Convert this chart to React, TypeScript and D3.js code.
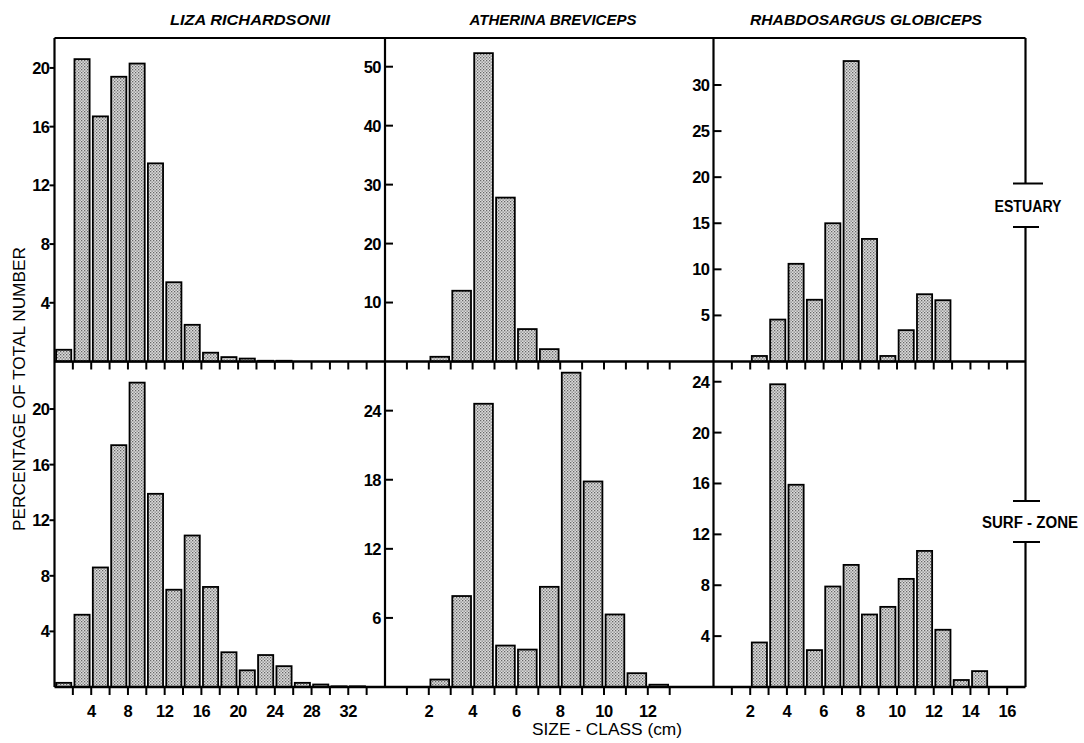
import React from 'react';
import * as d3 from 'd3';

// ---------- DATA ----------
const speciesNames = ['LIZA RICHARDSONII', 'ATHERINA BREVICEPS', 'RHABDOSARGUS GLOBICEPS'];
const habitatNames = ['ESTUARY', 'SURF - ZONE'];

// Liza richardsonii : 2-cm size classes (lower bounds)
const lizaStarts = [0, 2, 4, 6, 8, 10, 12, 14, 16, 18, 20, 22, 24, 26, 28, 30, 32];
const lizaEstuary = [0.8, 20.6, 16.7, 19.4, 20.3, 13.5, 5.4, 2.5, 0.6, 0.3, 0.2, 0.05, 0.05];
const lizaSurf = [0.3, 5.2, 8.6, 17.4, 21.9, 13.9, 7.0, 10.9, 7.2, 2.5, 1.2, 2.3, 1.5, 0.3, 0.18, 0.05, 0.05];

// Atherina breviceps : 1-cm size classes
const atherinaStarts = [2, 3, 4, 5, 6, 7, 8, 9, 10, 11, 12];
const atherinaEstuary = [0.8, 12.0, 52.3, 27.8, 5.5, 2.1];
const atherinaSurf = [0.65, 7.9, 24.6, 3.6, 3.25, 8.7, 27.3, 17.85, 6.3, 1.2, 0.2];

// Rhabdosargus globiceps : 1-cm size classes
const rhabdoStarts = [2, 3, 4, 5, 6, 7, 8, 9, 10, 11, 12, 13, 14];
const rhabdoEstuary = [0.6, 4.55, 10.6, 6.7, 15.0, 32.6, 13.3, 0.6, 3.4, 7.3, 6.65];
const rhabdoSurf = [3.5, 23.8, 15.9, 2.9, 7.9, 9.6, 5.7, 6.3, 8.5, 10.7, 4.5, 0.55, 1.25];

// ticks
const lizaXTicks = [2, 4, 6, 8, 10, 12, 14, 16, 18, 20, 22, 24, 26, 28, 30, 32, 34];
const lizaXLabels = [4, 8, 12, 16, 20, 24, 28, 32];
const atherinaXTicks = [1, 2, 3, 4, 5, 6, 7, 8, 9, 10, 11, 12, 13];
const atherinaXLabels = [2, 4, 6, 8, 10, 12];
const rhabdoXTicks = [1, 2, 3, 4, 5, 6, 7, 8, 9, 10, 11, 12, 13, 14, 15, 16];
const rhabdoXLabels = [2, 4, 6, 8, 10, 12, 14, 16];

const lizaEstuaryYTicks = [4, 8, 12, 16, 20];
const lizaSurfYTicks = [4, 8, 12, 16, 20];
const atherinaEstuaryYTicks = [10, 20, 30, 40, 50];
const atherinaSurfYTicks = [6, 12, 18, 24];
const rhabdoEstuaryYTicks = [5, 10, 15, 20, 25, 30];
const rhabdoSurfYTicks = [4, 8, 12, 16, 20, 24];

const xLabel = 'SIZE - CLASS  (cm)';
const yLabel = 'PERCENTAGE OF TOTAL NUMBER';

// ---------- LAYOUT ----------
const W = 1084;
const H = 743;
const TOP = 38;
const MID = 361.5;
const BOT = 687;
const RIGHT = 1025.5;
const FONT = "'Liberation Sans', Arial, Helvetica, sans-serif";

const columns = [
  { x0: 54.5, x1: 385, xMax: 36, classW: 2, starts: lizaStarts, est: lizaEstuary, surf: lizaSurf,
    xTicks: lizaXTicks, xLabels: lizaXLabels, yMax: [22.04, 23.42], yTicks: [lizaEstuaryYTicks, lizaSurfYTicks], outsideY: true },
  { x0: 385, x1: 713.5, xMax: 15, classW: 1, starts: atherinaStarts, est: atherinaEstuary, surf: atherinaSurf,
    xTicks: atherinaXTicks, xLabels: atherinaXLabels, yMax: [54.87, 28.27], yTicks: [atherinaEstuaryYTicks, atherinaSurfYTicks], outsideY: false },
  { x0: 713.5, x1: RIGHT, xMax: 17, classW: 1, starts: rhabdoStarts, est: rhabdoEstuary, surf: rhabdoSurf,
    xTicks: rhabdoXTicks, xLabels: rhabdoXLabels, yMax: [35.1, 25.59], yTicks: [rhabdoEstuaryYTicks, rhabdoSurfYTicks], outsideY: false },
];
const titleX = [250, 553, 866];
const titleW = [160, 167, 232];
const rows = [
  { top: TOP, base: MID },
  { top: MID, base: BOT },
];

export default function App() {
  return (
    <svg width={W} height={H} viewBox={`0 0 ${W} ${H}`}
      style={{ position: 'absolute', left: 0, top: 0, background: '#fff' }}
      fontFamily={FONT}>
      <defs>
        <pattern id="stip" width="3" height="3" patternUnits="userSpaceOnUse">
          <rect width="3" height="3" fill="#dcdcdc" />
          <rect x="0" y="0" width="1.3" height="1.3" fill="#666" />
          <rect x="1.5" y="1.5" width="1.3" height="1.3" fill="#7c7c7c" />
        </pattern>
      </defs>
      <rect x={0} y={0} width={W} height={H} fill="#fff" />

      {columns.map((c, ci) => {
        const x = d3.scaleLinear().domain([0, c.xMax]).range([c.x0, c.x1]);
        return (
          <g key={ci}>
            <text x={titleX[ci]} y={25} textAnchor="middle" fontSize={14} fontWeight="bold"
              fontStyle="italic" textLength={titleW[ci]} lengthAdjust="spacingAndGlyphs">{speciesNames[ci]}</text>
            {rows.map((r, ri) => {
              const y = d3.scaleLinear().domain([0, c.yMax[ri]]).range([r.base, r.top]);
              const vals = ri === 0 ? c.est : c.surf;
              return (
                <g key={ri}>
                  {vals.map((v, i) => {
                    const s = c.starts[i];
                    const xa = x(s) + 1.6;
                    const xb = x(s + c.classW) - 1.6;
                    const yt = y(v);
                    return (
                      <rect key={i} x={xa} y={yt} width={xb - xa} height={Math.max(0.01, r.base - yt)}
                        fill="url(#stip)" stroke="#000" strokeWidth={1.8} />
                    );
                  })}
                  {/* x ticks (down from baseline) */}
                  {c.xTicks.map((t) => (
                    <line key={t} x1={x(t)} x2={x(t)} y1={r.base} y2={r.base + 8} stroke="#000" strokeWidth={2} />
                  ))}
                  {/* y ticks + labels */}
                  {c.yTicks[ri].map((t) => (
                    <g key={t}>
                      <line x1={c.outsideY ? c.x0 - 5 : c.x0} x2={c.outsideY ? c.x0 : c.x0 + 8}
                        y1={y(t)} y2={y(t)} stroke="#000" strokeWidth={2} />
                      <text x={c.outsideY ? c.x0 - 5 : c.x0 - 4} y={y(t)} dy="0.36em" textAnchor="end"
                        fontSize={16.5} fontWeight="bold" letterSpacing={-0.5}>{t}</text>
                    </g>
                  ))}
                  {ri === 1 && c.xLabels.map((t) => (
                    <text key={t} x={x(t)} y={717} textAnchor="middle" fontSize={16.5} fontWeight="bold"
                      letterSpacing={-0.5}>{t}</text>
                  ))}
                </g>
              );
            })}
            {/* left axis of column */}
            <line x1={c.x0} x2={c.x0} y1={TOP} y2={BOT} stroke="#000" strokeWidth={2.2} />
          </g>
        );
      })}

      {/* frame horizontal lines */}
      <line x1={54.5} x2={RIGHT} y1={TOP} y2={TOP} stroke="#000" strokeWidth={2.2} />
      <line x1={54.5} x2={RIGHT} y1={MID} y2={MID} stroke="#000" strokeWidth={2.4} />
      <line x1={54.5} x2={RIGHT} y1={BOT} y2={BOT} stroke="#000" strokeWidth={2.4} />

      {/* right bracket with habitat labels */}
      <line x1={RIGHT} x2={RIGHT} y1={TOP} y2={183.5} stroke="#000" strokeWidth={2.2} />
      <line x1={1013} x2={1043} y1={183.5} y2={183.5} stroke="#000" strokeWidth={2} />
      <text x={1028} y={212} textAnchor="middle" fontSize={16} fontWeight="600"
        textLength={67} lengthAdjust="spacingAndGlyphs">{habitatNames[0]}</text>
      <line x1={1013} x2={1039} y1={227} y2={227} stroke="#000" strokeWidth={2} />
      <line x1={RIGHT} x2={RIGHT} y1={227} y2={501} stroke="#000" strokeWidth={2.2} />
      <line x1={1013} x2={1040} y1={501} y2={501} stroke="#000" strokeWidth={2} />
      <text x={1030} y={527.5} textAnchor="middle" fontSize={16} fontWeight="600"
        textLength={96} lengthAdjust="spacingAndGlyphs">{habitatNames[1]}</text>
      <line x1={1013} x2={1040} y1={542} y2={542} stroke="#000" strokeWidth={2} />
      <line x1={RIGHT} x2={RIGHT} y1={542} y2={BOT} stroke="#000" strokeWidth={2.2} />

      {/* axis titles */}
      <text x={607} y={735} textAnchor="middle" fontSize={17}
        textLength={150} lengthAdjust="spacingAndGlyphs">{xLabel}</text>
      <text transform="translate(25,389) rotate(-90)" textAnchor="middle" fontSize={17}
        textLength={284} lengthAdjust="spacingAndGlyphs">{yLabel}</text>
    </svg>
  );
}
